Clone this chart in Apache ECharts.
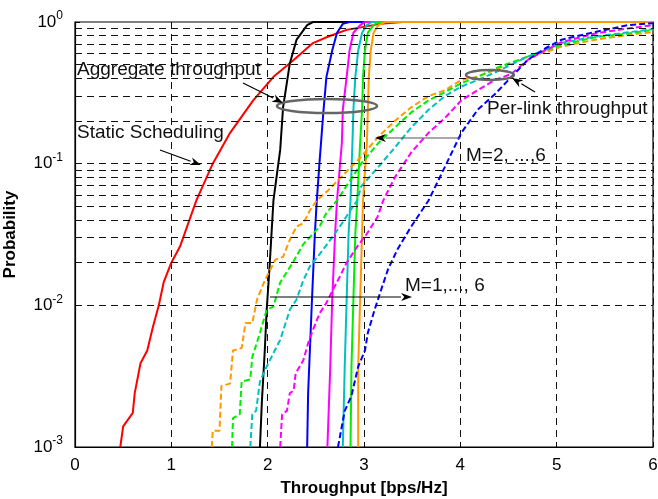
<!DOCTYPE html>
<html>
<head>
<meta charset="utf-8">
<script src="https://cdn.jsdelivr.net/npm/echarts@6/dist/echarts.min.js"></script>
<style>
  html, body { margin: 0; padding: 0; background: #fff; }
  #chart { width: 658px; height: 499px; }
</style>
</head>
<body>
<div id="chart"></div>
<script>
// x = throughput [bps/Hz], y = probability (CDF)
var xTicks = [0, 1, 2, 3, 4, 5, 6];
var yMajor = [0.001, 0.01, 0.1, 1];
var yGrid = [0.002, 0.003, 0.004, 0.005, 0.006, 0.007, 0.008, 0.009, 0.01,
             0.02, 0.03, 0.04, 0.05, 0.06, 0.07, 0.08, 0.09, 0.1,
             0.2, 0.3, 0.4, 0.5, 0.6, 0.7, 0.8, 0.9];

var staticSched = [[0.47,0.001],[0.5,0.0014],[0.6,0.00174],[0.62,0.0024],[0.68,0.0039],[0.75,0.0048],
  [0.81,0.0071],[0.87,0.01],[0.92,0.0145],[1.0,0.02],[1.09,0.026],[1.26,0.055],[1.43,0.1],[1.61,0.165],
  [1.85,0.28],[2.06,0.41],[2.27,0.54],[2.47,0.71],[2.63,0.79],[2.82,0.88],[3.17,0.97],[3.4,1.0],[6,1.0]];

// aggregate throughput, M = 1..6 (solid)
var aggM1 = [[1.92,0.001],[1.94,0.0021],[1.97,0.0048],[1.99,0.0093],[2.02,0.0188],[2.06,0.055],
  [2.13,0.125],[2.16,0.25],[2.23,0.51],[2.3,0.75],[2.41,0.95],[2.47,1.0],[6,1.0]];
var aggM2 = [[2.41,0.001],[2.42,0.0024],[2.46,0.011],[2.49,0.032],[2.51,0.055],[2.54,0.106],
  [2.58,0.24],[2.61,0.41],[2.67,0.63],[2.72,0.84],[2.78,0.97],[2.85,1.0],[6,1.0]];
var aggM3 = [[2.62,0.001],[2.65,0.0037],[2.67,0.011],[2.7,0.032],[2.72,0.055],[2.77,0.14],
  [2.78,0.24],[2.82,0.41],[2.85,0.63],[2.89,0.84],[2.96,0.95],[3.01,1.0],[6,1.0]];
var aggM4 = [[2.78,0.001],[2.8,0.0037],[2.82,0.011],[2.84,0.032],[2.86,0.055],[2.88,0.14],
  [2.89,0.24],[2.91,0.41],[2.94,0.63],[2.98,0.84],[3.03,0.95],[3.08,1.0],[6,1.0]];
var aggM5 = [[2.86,0.001],[2.87,0.0037],[2.89,0.011],[2.91,0.032],[2.93,0.055],[2.96,0.14],
  [2.98,0.24],[2.99,0.41],[3.01,0.63],[3.04,0.84],[3.1,0.95],[3.15,1.0],[6,1.0]];
var aggM6 = [[2.94,0.001],[2.94,0.0037],[2.96,0.011],[2.98,0.032],[2.99,0.055],[3.03,0.14],
  [3.04,0.24],[3.05,0.41],[3.07,0.63],[3.1,0.84],[3.15,0.95],[3.22,1.0],[6,1.0]];

// per-link throughput, M = 2..6 (dashed)
var linkOrange = [[1.42,0.001],[1.43,0.0013],[1.5,0.0013],[1.52,0.0027],[1.61,0.0028],[1.64,0.0048],
  [1.73,0.005],[1.77,0.0075],[1.84,0.0075],[1.89,0.011],[1.97,0.015],[2.08,0.021],[2.16,0.022],
  [2.23,0.029],[2.3,0.036],[2.37,0.038],[2.44,0.047],[2.51,0.055],[2.63,0.065],[2.97,0.112],
  [3.15,0.155],[3.32,0.2],[3.49,0.25],[3.67,0.3],[3.84,0.33],[4.01,0.39],[4.18,0.41],[4.36,0.46],
  [4.53,0.51],[4.7,0.57],[4.88,0.61],[5.05,0.67],[5.4,0.75],[5.74,0.81],[6.0,0.85]];
var linkGreen = [[1.63,0.001],[1.64,0.0016],[1.71,0.0017],[1.73,0.0029],[1.82,0.003],[1.84,0.0043],
  [1.92,0.0064],[1.99,0.0093],[2.06,0.0098],[2.13,0.0145],[2.26,0.02],[2.37,0.027],[2.47,0.032],
  [2.54,0.036],[2.61,0.045],[2.72,0.055],[2.97,0.1],[3.15,0.14],[3.32,0.18],[3.49,0.23],[3.67,0.28],
  [3.84,0.32],[4.01,0.37],[4.18,0.41],[4.36,0.47],[4.7,0.57],[5.05,0.69],[5.4,0.78],[5.74,0.83],[6.0,0.88]];
var linkCyan = [[1.82,0.001],[1.84,0.0017],[1.88,0.0018],[1.92,0.0029],[1.99,0.0037],[2.06,0.0046],
  [2.13,0.0057],[2.23,0.0093],[2.3,0.011],[2.37,0.015],[2.44,0.019],[2.54,0.023],[2.65,0.029],
  [2.75,0.036],[2.86,0.047],[2.93,0.055],[2.97,0.069],[3.15,0.095],[3.32,0.13],[3.49,0.18],[3.67,0.24],
  [3.84,0.3],[4.01,0.35],[4.18,0.39],[4.36,0.44],[4.7,0.57],[5.05,0.71],[5.4,0.79],[6.0,0.89]];
var linkMagenta = [[2.13,0.001],[2.15,0.0017],[2.2,0.0018],[2.23,0.0024],[2.27,0.0025],[2.29,0.0033],
  [2.37,0.0041],[2.42,0.0054],[2.47,0.0067],[2.54,0.0088],[2.61,0.0104],[2.68,0.013],[2.75,0.016],
  [2.82,0.02],[2.93,0.026],[3.03,0.032],[3.14,0.042],[3.2,0.055],[3.32,0.08],[3.49,0.12],[3.67,0.165],
  [3.84,0.21],[4.01,0.28],[4.18,0.33],[4.36,0.39],[4.53,0.43],[4.7,0.54],[4.88,0.63],[5.05,0.72],
  [5.4,0.83],[5.74,0.9],[6.0,0.95]];
var linkBlue = [[2.73,0.001],[2.8,0.0018],[2.87,0.0023],[2.94,0.0037],[3.01,0.0048],[3.04,0.0064],
  [3.11,0.0093],[3.18,0.013],[3.25,0.018],[3.35,0.025],[3.49,0.036],[3.67,0.055],[3.84,0.095],
  [4.01,0.165],[4.18,0.24],[4.36,0.31],[4.53,0.41],[4.7,0.54],[4.88,0.65],[5.05,0.75],[5.4,0.85],
  [5.74,0.95],[6.0,0.98]];

var chart = echarts.init(document.getElementById('chart'));
var FONT = 'Liberation Sans, Arial, sans-serif';

function solid(data, color) {
  return { type: 'line', data: data, symbol: 'none', lineStyle: { color: color, width: 2 }, z: 3 };
}
function dashed(data, color) {
  return { type: 'line', data: data, symbol: 'none', lineStyle: { color: color, width: 2, type: [6, 3] }, z: 3 };
}

// arrow: line plus filled head at (x2, y2)
function arrow(x1, y1, x2, y2, color) {
  var a = Math.atan2(y2 - y1, x2 - x1), L = 11, W = 4;
  var bx = x2 - L * Math.cos(a), by = y2 - L * Math.sin(a);
  var px = -Math.sin(a) * W, py = Math.cos(a) * W;
  return [
    { type: 'line', shape: { x1: x1, y1: y1, x2: bx, y2: by }, style: { stroke: color, lineWidth: 1.2 }, z: 10 },
    { type: 'polygon', shape: { points: [[x2, y2], [bx + px, by + py], [bx + L * 0.3 * Math.cos(a), by + L * 0.3 * Math.sin(a)], [bx - px, by - py]] },
      style: { fill: '#000' }, z: 10 }
  ];
}
function label(text, x, y) {
  return { type: 'text', x: x, y: y, style: { text: text, font: '19px ' + FONT, fill: '#111', verticalAlign: 'middle' }, z: 10 };
}

var graphics = [
  { type: 'ellipse', shape: { cx: 327, cy: 106, rx: 50, ry: 7 }, style: { fill: 'none', stroke: '#666', lineWidth: 2.5 }, z: 9 },
  { type: 'ellipse', shape: { cx: 490, cy: 75, rx: 24, ry: 5 }, style: { fill: 'none', stroke: '#666', lineWidth: 2.5 }, z: 9 },
  label('Aggregate throughput', 77, 70),
  label('Static Scheduling', 77, 133),
  label('Per-link throughput', 487, 109),
  label('M=2, ...,6', 466, 156),
  label('M=1,..., 6', 405, 286)
].concat(arrow(243, 83, 283, 103, '#000'))
 .concat(arrow(160, 150, 201, 165, '#000'))
 .concat(arrow(535, 92, 512, 78, '#000'))
 .concat(arrow(461, 138, 375, 138, '#555'))
 .concat(arrow(270, 297, 412, 297, '#000'));

var option = {
  animation: false,
  backgroundColor: '#fff',
  grid: { left: 75, right: 5, top: 22, bottom: 52, outerBoundsMode: 'none', containLabel: false,
    show: true, borderColor: '#000', borderWidth: 1.2, backgroundColor: 'transparent' },
  xAxis: {
    type: 'value', min: 0, max: 6, interval: 1,
    name: 'Throughput [bps/Hz]', nameLocation: 'middle', nameGap: 33,
    nameTextStyle: { fontFamily: FONT, fontWeight: 'bold', fontSize: 17, color: '#000' },
    axisLine: { show: true, lineStyle: { color: '#000', width: 1.2 } },
    axisTick: { show: true, inside: true, length: 5, lineStyle: { color: '#000' } },
    axisLabel: { fontFamily: FONT, fontSize: 17, color: '#000', margin: 10,
      formatter: function (v) { return xTicks.indexOf(v) >= 0 ? String(v) : ''; } },
    splitLine: { show: true, lineStyle: { color: '#111', width: 1, type: [7, 5] } }
  },
  yAxis: {
    type: 'log', logBase: 10, min: 0.001, max: 1,
    name: 'Probability', nameLocation: 'middle', nameGap: 56, nameRotate: 90,
    nameTextStyle: { fontFamily: FONT, fontWeight: 'bold', fontSize: 17, color: '#000' },
    axisLine: { show: true, lineStyle: { color: '#000', width: 1.2 } },
    axisTick: { show: true, inside: true, length: 5, lineStyle: { color: '#000' } },
    axisLabel: {
      margin: 12, color: '#000',
      formatter: function (v) {
        var e = Math.round(Math.log10(v));
        if (yMajor.indexOf(Math.pow(10, e)) < 0 && Math.abs(v - Math.pow(10, e)) > 1e-9) return '';
        return '{b|10}{s|' + e + '}';
      },
      rich: {
        b: { fontFamily: FONT, fontSize: 17, color: '#000' },
        s: { fontFamily: FONT, fontSize: 12, color: '#000', padding: [0, 0, 12, 0] }
      }
    },
    splitLine: { show: false }
  },
  graphic: graphics,
  series: [
    {
      type: 'line', data: [], symbol: 'none', silent: true,
      markLine: {
        silent: true, symbol: 'none', label: { show: false },
        lineStyle: { color: '#111', width: 1, type: [7, 5] },
        data: yGrid.map(function (v) { return { yAxis: v }; })
      }
    },
    solid(staticSched, '#ff0000'),
    solid(aggM1, '#000000'),
    solid(aggM2, '#0000ff'),
    solid(aggM3, '#ff00ff'),
    solid(aggM4, '#00c0c0'),
    solid(aggM5, '#00ee00'),
    solid(aggM6, '#ff9900'),
    dashed(linkOrange, '#ff9900'),
    dashed(linkGreen, '#00ee00'),
    dashed(linkCyan, '#00c0c0'),
    dashed(linkMagenta, '#ff00ff'),
    dashed(linkBlue, '#0000ff')
  ]
};
chart.setOption(option);
</script>
</body>
</html>
